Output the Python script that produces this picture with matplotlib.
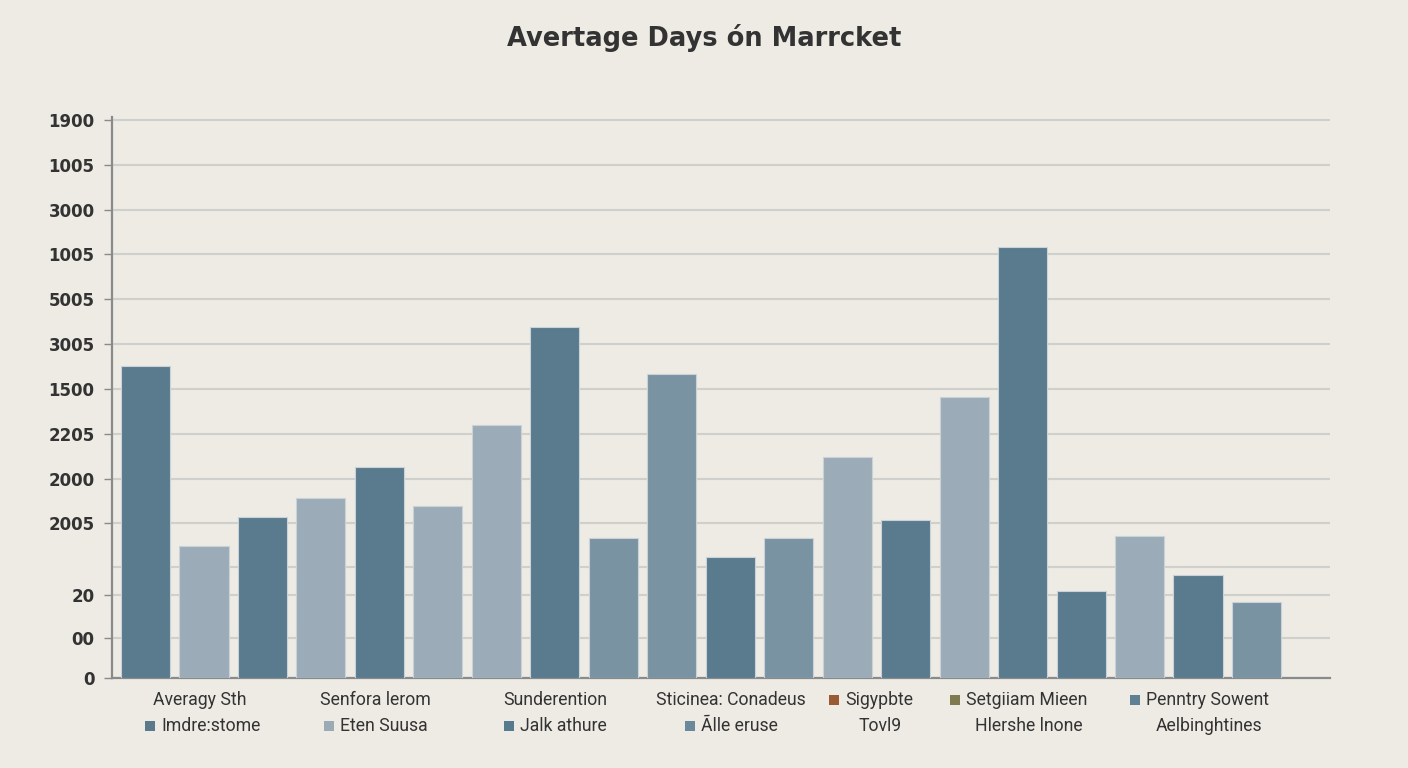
import numpy as np
import matplotlib.pyplot as plt
from matplotlib.patches import Rectangle

# Bar heights (chart units, 0 = baseline, 100 = top gridline)
bar_values = [55.9, 23.7, 28.9, 32.3, 37.8, 30.8, 45.3, 62.9, 25.1, 54.5,
              21.7, 25.1, 39.6, 28.3, 50.4, 77.2, 15.6, 25.4, 18.5, 13.6]
bar_shades = ['dark', 'light', 'dark', 'light', 'dark', 'light', 'light', 'dark', 'mid', 'mid',
              'dark', 'mid', 'light', 'dark', 'light', 'dark', 'dark', 'light', 'dark', 'mid']
shade_colors = {'dark': '#5a7a8d', 'light': '#9bacb8', 'mid': '#7a93a2'}

# Y-axis tick positions and their (odd) labels
ytick_pos = [100, 91.94, 83.87, 75.99, 67.92, 59.86, 51.79, 43.73, 35.66, 27.78, 14.87, 7.17, 0]
ytick_labels = ['1900', '1005', '3000', '1005', '5005', '3005', '1500', '2205', '2000', '2005',
                '20', '00', '0']
extra_grid = [19.89]

# Legend-like labels below the axis: (text, marker colour or None)
legend_row1 = [('Averagy Sth', None), ('Senfora lerom', None), ('Sunderention', None),
               ('Sticinea: Conadeus', None), ('Sigypbte', '#9a5a34'),
               ('Setgiiam Mieen', '#7f7a50'), ('Penntry Sowent', '#5f7f92')]
legend_row2 = [('Imdre:stome', '#5a7a8c'), ('Eten Suusa', '#9aabb6'), ('Jalk athure', '#587a8e'),
               ('Ãlle eruse', '#6a8a9c'), ('Tovl9', None), ('Hlershe lnone', None),
               ('Aelbinghtines', None)]

bg = '#edebe4'
W, H = 1408, 768

fig = plt.figure(figsize=(W / 100, H / 100), dpi=100, facecolor=bg)
ax = fig.add_axes([112 / W, 1 - 678 / H, (1330 - 112) / W, (678 - 117) / H])
ax.set_facecolor(bg)

x = np.arange(len(bar_values))
colors = [shade_colors[s] for s in bar_shades]
ax.bar(x, bar_values, width=0.84, color=colors, edgecolor='#c9d2d8', linewidth=0.8, zorder=3)

ax.set_xlim(-0.573, len(bar_values) - 1 + 1.257)
ax.set_ylim(0, 100 * (678 - 117) / (678 - 120))

ax.set_yticks(ytick_pos)
ax.set_yticklabels(ytick_labels, fontsize=12, fontweight='bold', color='#333333')
ax.set_yticks(extra_grid, minor=True)
ax.tick_params(axis='y', which='major', length=6, width=1, color='#8a8a8a', pad=6.5)
ax.tick_params(axis='y', which='minor', length=0)
ax.set_xticks([])
ax.grid(axis='y', which='both', color='#cfd0cc', linewidth=1.5, zorder=0)

for side in ['top', 'right']:
    ax.spines[side].set_visible(False)
for side in ['left', 'bottom']:
    ax.spines[side].set_color('#8a8a8a')
    ax.spines[side].set_linewidth(1.6)

fig.text(0.5, 1 - 38 / H, 'Avertage Days ón Marrcket', ha='center', va='center',
         fontsize=18.5, fontweight='bold', color='#333333', family='DejaVu Sans')

# label rows under the chart
row1_x = [200, 375, 555, 731, 879, 1027, 1207]
row2_x = [211, 384, 563, 739, 880, 1029, 1209]


def draw_row(items, centers, ypix):
    for (label, col), cx in zip(items, centers):
        t = fig.text(cx / W, 1 - ypix / H, label, ha='center', va='center',
                     fontsize=12.7, color='#333333', family='Roboto')
        if col is not None:
            fig.canvas.draw()
            bb = t.get_window_extent()
            sq = 10
            fig.add_artist(Rectangle(((bb.x0 - 6 - sq) / W, (H - ypix - sq / 2) / H),
                                     sq / W, sq / H, transform=fig.transFigure,
                                     color=col, lw=0))


draw_row(legend_row1, row1_x, 700)
draw_row(legend_row2, row2_x, 726)

fig.savefig('out.png', dpi=100, facecolor=bg)
